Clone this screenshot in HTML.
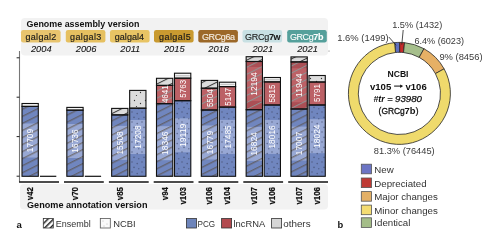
<!DOCTYPE html>
<html><head><meta charset="utf-8"><style>html,body{margin:0;padding:0;background:#fff;width:499px;height:251px;overflow:hidden}svg{display:block;will-change:transform;font-family:"Liberation Sans",sans-serif}</style></head>
<body><svg width="499" height="251" viewBox="0 0 499 251" font-family="Liberation Sans, sans-serif">
<defs>
<pattern id="hb" patternUnits="userSpaceOnUse" width="20" height="6.3" patternTransform="rotate(-26.6)"><line x1="0" y1="0.7" x2="20" y2="0.7" stroke="#54432c" stroke-width="1.2" stroke-opacity="0.6"/></pattern>
<pattern id="hr" patternUnits="userSpaceOnUse" width="20" height="6.3" patternTransform="rotate(-26.6)"><line x1="0" y1="0.5" x2="20" y2="0.5" stroke="#8c9898" stroke-width="1" stroke-opacity="0.9"/></pattern>
<pattern id="hg" patternUnits="userSpaceOnUse" width="20" height="6.3" patternTransform="rotate(-26.6)"><line x1="0" y1="0.5" x2="20" y2="0.5" stroke="#333" stroke-width="1"/></pattern>
<pattern id="dt" patternUnits="userSpaceOnUse" width="10" height="10"><g fill="#3a4262" fill-opacity="0.6"><circle cx="2" cy="2" r="0.8"/><circle cx="7.2" cy="3.6" r="0.8"/><circle cx="4" cy="7.4" r="0.8"/><circle cx="8.8" cy="8.8" r="0.7"/></g></pattern>
<pattern id="dg" patternUnits="userSpaceOnUse" width="11" height="11"><g fill="#333"><circle cx="2.5" cy="1.5" r="0.65"/><circle cx="8.5" cy="4.5" r="0.65"/><circle cx="4.5" cy="7.5" r="0.6"/></g></pattern>
<pattern id="lh" patternUnits="userSpaceOnUse" width="4" height="4" patternTransform="rotate(-45)"><rect x="0" y="0" width="4" height="1.5" fill="#222"/></pattern>
</defs>
<rect width="499" height="251" fill="#fff"/>
<rect x="21" y="18" width="307" height="37.5" rx="4" fill="#f2f2f2"/>
<text x="26.5" y="26.6" font-size="9.2" font-weight="bold" fill="#111" textLength="113" lengthAdjust="spacingAndGlyphs">Genome assembly version</text>
<rect x="21" y="30" width="39.6" height="12.4" rx="2.2" fill="#e8c46e"/>
<text x="25.5" y="39.7" font-size="9.0" fill="#1a1a1a" stroke="#1a1a1a" stroke-width="0.15" textLength="30.8" lengthAdjust="spacing">galgal2</text>
<text x="41.3" y="51.6" font-size="9.3" font-style="italic" fill="#111" stroke="#111" stroke-width="0.08" text-anchor="middle">2004</text>
<rect x="65.8" y="30" width="39.6" height="12.4" rx="2.2" fill="#e6c060"/>
<text x="70.0" y="39.7" font-size="9.0" fill="#1a1a1a" stroke="#1a1a1a" stroke-width="0.15" textLength="31.3" lengthAdjust="spacing">galgal3</text>
<text x="86.1" y="51.6" font-size="9.3" font-style="italic" fill="#111" stroke="#111" stroke-width="0.08" text-anchor="middle">2006</text>
<rect x="110" y="30" width="39.6" height="12.4" rx="2.2" fill="#e8c464"/>
<text x="114.7" y="39.7" font-size="9.0" fill="#1a1a1a" stroke="#1a1a1a" stroke-width="0.15" textLength="29.400000000000002" lengthAdjust="spacing">galgal4</text>
<text x="130.3" y="51.6" font-size="9.3" font-style="italic" fill="#111" stroke="#111" stroke-width="0.08" text-anchor="middle">2011</text>
<rect x="154" y="30" width="39.6" height="12.4" rx="2.2" fill="#c99a30"/>
<text x="159.0" y="39.7" font-size="9.0" fill="#1a1a1a" stroke="#1a1a1a" stroke-width="0.15" textLength="31.7" lengthAdjust="spacing">galgal5</text>
<text x="174.3" y="51.6" font-size="9.3" font-style="italic" fill="#111" stroke="#111" stroke-width="0.08" text-anchor="middle">2015</text>
<rect x="198.3" y="30" width="39.6" height="12.4" rx="2.2" fill="#9c6828"/>
<text x="201.9" y="39.7" font-size="9.0" fill="#f4ece0" stroke="#f4ece0" stroke-width="0.15" textLength="33.199999999999996" lengthAdjust="spacing">GRCg6a</text>
<text x="218.60000000000002" y="51.6" font-size="9.3" font-style="italic" fill="#111" stroke="#111" stroke-width="0.08" text-anchor="middle">2018</text>
<rect x="242.5" y="30" width="39.6" height="12.4" rx="2.2" fill="#c8e0e3"/>
<text x="245.1" y="39.7" font-size="9.0" fill="#1a1a1a" stroke="#1a1a1a" stroke-width="0.1" textLength="35.5" lengthAdjust="spacing">GRCg<tspan font-weight="bold">7w</tspan></text>
<text x="262.8" y="51.6" font-size="9.3" font-style="italic" fill="#111" stroke="#111" stroke-width="0.08" text-anchor="middle">2021</text>
<rect x="287.2" y="30" width="39.6" height="12.4" rx="2.2" fill="#55a09b"/>
<text x="289.9" y="39.7" font-size="9.0" fill="#ffffff" stroke="#ffffff" stroke-width="0.1" textLength="33.5" lengthAdjust="spacing">GRCg<tspan font-weight="bold">7b</tspan></text>
<text x="307.5" y="51.6" font-size="9.3" font-style="italic" fill="#111" stroke="#111" stroke-width="0.08" text-anchor="middle">2021</text>
<rect x="20" y="184" width="308" height="25.5" rx="4" fill="#f2f2f2"/>
<text x="27" y="207.6" font-size="9.2" font-weight="bold" fill="#111" textLength="120.5" lengthAdjust="spacingAndGlyphs">Genome annotation version</text>
<line x1="19.5" y1="51" x2="19.5" y2="182.5" stroke="#777" stroke-width="1.1"/>
<line x1="16.6" y1="57.8" x2="19.5" y2="57.8" stroke="#222" stroke-width="1"/>
<line x1="16.6" y1="97.2" x2="19.5" y2="97.2" stroke="#222" stroke-width="1"/>
<line x1="16.6" y1="136.6" x2="19.5" y2="136.6" stroke="#222" stroke-width="1"/>
<line x1="16.6" y1="176.2" x2="19.5" y2="176.2" stroke="#222" stroke-width="1"/>
<line x1="19.2" y1="182" x2="59.0" y2="182" stroke="#111" stroke-width="1.4"/>
<line x1="64.0" y1="182" x2="103.8" y2="182" stroke="#111" stroke-width="1.4"/>
<line x1="108.9" y1="182" x2="148.7" y2="182" stroke="#111" stroke-width="1.4"/>
<line x1="153.7" y1="182" x2="193.5" y2="182" stroke="#111" stroke-width="1.4"/>
<line x1="198.5" y1="182" x2="238.3" y2="182" stroke="#111" stroke-width="1.4"/>
<line x1="243.3" y1="182" x2="283.1" y2="182" stroke="#111" stroke-width="1.4"/>
<line x1="288.2" y1="182" x2="328.0" y2="182" stroke="#111" stroke-width="1.4"/>
<rect x="22.00" y="103.5" width="16.3" height="2.90" fill="#f6f6f6"/>
<rect x="22.00" y="106.4" width="16.3" height="69.90" fill="#7086bf"/>
<rect x="22.00" y="123.5" width="16.3" height="34.0" fill="#98a8d4"/>
<rect x="22.00" y="106.4" width="16.3" height="69.90" fill="url(#hb)"/>
<rect x="22.00" y="103.5" width="16.3" height="2.90" fill="none" stroke="#111" stroke-width="1.1"/>
<rect x="22.00" y="106.4" width="16.3" height="69.90" fill="none" stroke="#111" stroke-width="1.1"/>
<text transform="translate(33.25,152.20) rotate(-90)" font-size="8.2" fill="#fff" textLength="23.4" lengthAdjust="spacingAndGlyphs">17709</text>
<rect x="66.83" y="107.4" width="16.3" height="2.80" fill="#f6f6f6"/>
<rect x="66.83" y="110.1" width="16.3" height="66.20" fill="#7086bf"/>
<rect x="66.83" y="124.0" width="16.3" height="34.0" fill="#98a8d4"/>
<rect x="66.83" y="110.1" width="16.3" height="66.20" fill="url(#hb)"/>
<rect x="66.83" y="107.4" width="16.3" height="2.80" fill="none" stroke="#111" stroke-width="1.1"/>
<rect x="66.83" y="110.1" width="16.3" height="66.20" fill="none" stroke="#111" stroke-width="1.1"/>
<text transform="translate(78.08,152.70) rotate(-90)" font-size="8.2" fill="#fff" textLength="23.4" lengthAdjust="spacingAndGlyphs">16736</text>
<rect x="111.66" y="108.4" width="16.3" height="6.50" fill="#dcdcdc"/>
<rect x="111.66" y="114.9" width="16.3" height="61.40" fill="#7086bf"/>
<rect x="111.66" y="125.9" width="16.3" height="34.0" fill="#98a8d4"/>
<rect x="111.66" y="108.4" width="16.3" height="6.50" fill="url(#hg)"/>
<rect x="111.66" y="114.9" width="16.3" height="61.40" fill="url(#hb)"/>
<rect x="111.66" y="108.4" width="16.3" height="6.50" fill="none" stroke="#111" stroke-width="1.1"/>
<rect x="111.66" y="114.9" width="16.3" height="61.40" fill="none" stroke="#111" stroke-width="1.1"/>
<text transform="translate(122.91,154.60) rotate(-90)" font-size="8.2" fill="#fff" textLength="23.4" lengthAdjust="spacingAndGlyphs">15508</text>
<rect x="129.66" y="90.4" width="16.3" height="17.80" fill="#dcdcdc"/>
<rect x="129.66" y="108.2" width="16.3" height="68.10" fill="#7086bf"/>
<rect x="129.66" y="120.0" width="16.3" height="34.0" fill="#98a8d4"/>
<rect x="129.66" y="90.4" width="16.3" height="17.80" fill="url(#dg)"/>
<rect x="129.66" y="108.2" width="16.3" height="68.10" fill="url(#dt)"/>
<rect x="129.66" y="90.4" width="16.3" height="17.80" fill="none" stroke="#111" stroke-width="1.1"/>
<rect x="129.66" y="108.2" width="16.3" height="68.10" fill="none" stroke="#111" stroke-width="1.1"/>
<text transform="translate(140.91,148.70) rotate(-90)" font-size="8.2" fill="#fff" textLength="23.4" lengthAdjust="spacingAndGlyphs">17208</text>
<rect x="156.49" y="78.3" width="16.3" height="7.10" fill="#dcdcdc"/>
<rect x="156.49" y="85.4" width="16.3" height="18.30" fill="#ab4f55"/>
<rect x="156.49" y="103.7" width="16.3" height="72.60" fill="#7086bf"/>
<rect x="156.49" y="126.2" width="16.3" height="34.0" fill="#98a8d4"/>
<rect x="156.49" y="85.4" width="16.3" height="18.3" fill="#bc6166"/>
<rect x="156.49" y="78.3" width="16.3" height="7.10" fill="url(#hg)"/>
<rect x="156.49" y="85.4" width="16.3" height="18.30" fill="url(#hr)"/>
<rect x="156.49" y="103.7" width="16.3" height="72.60" fill="url(#hb)"/>
<rect x="156.49" y="78.3" width="16.3" height="7.10" fill="none" stroke="#111" stroke-width="1.1"/>
<rect x="156.49" y="85.4" width="16.3" height="18.30" fill="none" stroke="#111" stroke-width="1.1"/>
<rect x="156.49" y="103.7" width="16.3" height="72.60" fill="none" stroke="#111" stroke-width="1.1"/>
<text transform="translate(167.74,154.90) rotate(-90)" font-size="8.2" fill="#fff" textLength="23.4" lengthAdjust="spacingAndGlyphs">18346</text>
<text transform="translate(167.74,103.10) rotate(-90)" font-size="8.2" fill="#fff" textLength="17.8" lengthAdjust="spacingAndGlyphs">4641</text>
<rect x="174.49" y="73.2" width="16.3" height="5.00" fill="#f6f6f6"/>
<rect x="175.49" y="75.10" width="14.3" height="1.3" fill="#c4c4c4"/>
<rect x="174.49" y="78.2" width="16.3" height="22.50" fill="#ab4f55"/>
<rect x="174.49" y="100.7" width="16.3" height="75.60" fill="#7086bf"/>
<rect x="174.49" y="118.3" width="16.3" height="34.0" fill="#98a8d4"/>
<rect x="174.49" y="78.2" width="16.3" height="22.5" fill="#bc6166"/>
<rect x="174.49" y="100.7" width="16.3" height="75.60" fill="url(#dt)"/>
<rect x="174.49" y="73.2" width="16.3" height="5.00" fill="none" stroke="#111" stroke-width="1.1"/>
<rect x="174.49" y="78.2" width="16.3" height="22.50" fill="none" stroke="#111" stroke-width="1.1"/>
<rect x="174.49" y="100.7" width="16.3" height="75.60" fill="none" stroke="#111" stroke-width="1.1"/>
<text transform="translate(185.74,147.00) rotate(-90)" font-size="8.2" fill="#fff" textLength="23.4" lengthAdjust="spacingAndGlyphs">19119</text>
<text transform="translate(185.74,97.70) rotate(-90)" font-size="8.2" fill="#fff" textLength="17.8" lengthAdjust="spacingAndGlyphs">5763</text>
<rect x="201.32" y="80.4" width="16.3" height="7.80" fill="#dcdcdc"/>
<rect x="201.32" y="88.2" width="16.3" height="21.80" fill="#ab4f55"/>
<rect x="201.32" y="110.0" width="16.3" height="66.30" fill="#7086bf"/>
<rect x="201.32" y="125.5" width="16.3" height="34.0" fill="#98a8d4"/>
<rect x="201.32" y="88.2" width="16.3" height="21.8" fill="#bc6166"/>
<rect x="201.32" y="80.4" width="16.3" height="7.80" fill="url(#hg)"/>
<rect x="201.32" y="88.2" width="16.3" height="21.80" fill="url(#hr)"/>
<rect x="201.32" y="110.0" width="16.3" height="66.30" fill="url(#hb)"/>
<rect x="201.32" y="80.4" width="16.3" height="7.80" fill="none" stroke="#111" stroke-width="1.1"/>
<rect x="201.32" y="88.2" width="16.3" height="21.80" fill="none" stroke="#111" stroke-width="1.1"/>
<rect x="201.32" y="110.0" width="16.3" height="66.30" fill="none" stroke="#111" stroke-width="1.1"/>
<text transform="translate(212.57,154.20) rotate(-90)" font-size="8.2" fill="#fff" textLength="23.4" lengthAdjust="spacingAndGlyphs">16779</text>
<text transform="translate(212.57,107.10) rotate(-90)" font-size="8.2" fill="#fff" textLength="17.8" lengthAdjust="spacingAndGlyphs">5504</text>
<rect x="219.32" y="82.2" width="16.3" height="4.40" fill="#f6f6f6"/>
<rect x="220.32" y="83.80" width="14.3" height="1.3" fill="#c4c4c4"/>
<rect x="219.32" y="86.6" width="16.3" height="20.50" fill="#ab4f55"/>
<rect x="219.32" y="107.1" width="16.3" height="69.20" fill="#7086bf"/>
<rect x="219.32" y="119.9" width="16.3" height="34.0" fill="#98a8d4"/>
<rect x="219.32" y="86.6" width="16.3" height="20.5" fill="#bc6166"/>
<rect x="219.32" y="107.1" width="16.3" height="69.20" fill="url(#dt)"/>
<rect x="219.32" y="82.2" width="16.3" height="4.40" fill="none" stroke="#111" stroke-width="1.1"/>
<rect x="219.32" y="86.6" width="16.3" height="20.50" fill="none" stroke="#111" stroke-width="1.1"/>
<rect x="219.32" y="107.1" width="16.3" height="69.20" fill="none" stroke="#111" stroke-width="1.1"/>
<text transform="translate(230.57,148.60) rotate(-90)" font-size="8.2" fill="#fff" textLength="23.4" lengthAdjust="spacingAndGlyphs">17485</text>
<text transform="translate(230.57,105.70) rotate(-90)" font-size="8.2" fill="#fff" textLength="17.8" lengthAdjust="spacingAndGlyphs">5147</text>
<rect x="246.15" y="56.7" width="16.3" height="4.80" fill="#dcdcdc"/>
<rect x="246.15" y="61.5" width="16.3" height="48.20" fill="#ab4f55"/>
<rect x="246.15" y="109.7" width="16.3" height="66.60" fill="#7086bf"/>
<rect x="246.15" y="126.9" width="16.3" height="34.0" fill="#98a8d4"/>
<rect x="246.15" y="67.0" width="16.3" height="34.0" fill="#bc6166"/>
<rect x="246.15" y="56.7" width="16.3" height="4.80" fill="url(#hg)"/>
<rect x="246.15" y="61.5" width="16.3" height="48.20" fill="url(#hr)"/>
<rect x="246.15" y="109.7" width="16.3" height="66.60" fill="url(#hb)"/>
<rect x="246.15" y="56.7" width="16.3" height="4.80" fill="none" stroke="#111" stroke-width="1.1"/>
<rect x="246.15" y="61.5" width="16.3" height="48.20" fill="none" stroke="#111" stroke-width="1.1"/>
<rect x="246.15" y="109.7" width="16.3" height="66.60" fill="none" stroke="#111" stroke-width="1.1"/>
<text transform="translate(257.40,155.60) rotate(-90)" font-size="8.2" fill="#fff" textLength="23.4" lengthAdjust="spacingAndGlyphs">16824</text>
<text transform="translate(257.40,95.70) rotate(-90)" font-size="8.2" fill="#fff" textLength="23.4" lengthAdjust="spacingAndGlyphs">12194</text>
<rect x="264.15" y="77.5" width="16.3" height="4.40" fill="#f6f6f6"/>
<rect x="265.15" y="79.10" width="14.3" height="1.3" fill="#c4c4c4"/>
<rect x="264.15" y="81.9" width="16.3" height="23.10" fill="#ab4f55"/>
<rect x="264.15" y="105.0" width="16.3" height="71.30" fill="#7086bf"/>
<rect x="264.15" y="119.9" width="16.3" height="34.0" fill="#98a8d4"/>
<rect x="264.15" y="81.9" width="16.3" height="23.1" fill="#bc6166"/>
<rect x="264.15" y="105.0" width="16.3" height="71.30" fill="url(#dt)"/>
<rect x="264.15" y="77.5" width="16.3" height="4.40" fill="none" stroke="#111" stroke-width="1.1"/>
<rect x="264.15" y="81.9" width="16.3" height="23.10" fill="none" stroke="#111" stroke-width="1.1"/>
<rect x="264.15" y="105.0" width="16.3" height="71.30" fill="none" stroke="#111" stroke-width="1.1"/>
<text transform="translate(275.40,148.60) rotate(-90)" font-size="8.2" fill="#fff" textLength="23.4" lengthAdjust="spacingAndGlyphs">18016</text>
<text transform="translate(275.40,102.40) rotate(-90)" font-size="8.2" fill="#fff" textLength="17.8" lengthAdjust="spacingAndGlyphs">5815</text>
<rect x="290.98" y="56.9" width="16.3" height="5.00" fill="#dcdcdc"/>
<rect x="290.98" y="61.9" width="16.3" height="47.10" fill="#ab4f55"/>
<rect x="290.98" y="109.0" width="16.3" height="67.30" fill="#7086bf"/>
<rect x="290.98" y="126.6" width="16.3" height="34.0" fill="#98a8d4"/>
<rect x="290.98" y="68.2" width="16.3" height="34.0" fill="#bc6166"/>
<rect x="290.98" y="56.9" width="16.3" height="5.00" fill="url(#hg)"/>
<rect x="290.98" y="61.9" width="16.3" height="47.10" fill="url(#hr)"/>
<rect x="290.98" y="109.0" width="16.3" height="67.30" fill="url(#hb)"/>
<rect x="290.98" y="56.9" width="16.3" height="5.00" fill="none" stroke="#111" stroke-width="1.1"/>
<rect x="290.98" y="61.9" width="16.3" height="47.10" fill="none" stroke="#111" stroke-width="1.1"/>
<rect x="290.98" y="109.0" width="16.3" height="67.30" fill="none" stroke="#111" stroke-width="1.1"/>
<text transform="translate(302.23,155.30) rotate(-90)" font-size="8.2" fill="#fff" textLength="23.4" lengthAdjust="spacingAndGlyphs">17007</text>
<text transform="translate(302.23,96.90) rotate(-90)" font-size="8.2" fill="#fff" textLength="23.4" lengthAdjust="spacingAndGlyphs">11944</text>
<rect x="308.98" y="75.5" width="16.3" height="6.50" fill="#dcdcdc"/>
<rect x="308.98" y="82.0" width="16.3" height="23.00" fill="#ab4f55"/>
<rect x="308.98" y="105.0" width="16.3" height="71.30" fill="#7086bf"/>
<rect x="308.98" y="119.2" width="16.3" height="34.0" fill="#98a8d4"/>
<rect x="308.98" y="82.0" width="16.3" height="23.0" fill="#bc6166"/>
<rect x="308.98" y="75.5" width="16.3" height="6.50" fill="url(#dg)"/>
<rect x="308.98" y="105.0" width="16.3" height="71.30" fill="url(#dt)"/>
<rect x="308.98" y="75.5" width="16.3" height="6.50" fill="none" stroke="#111" stroke-width="1.1"/>
<rect x="308.98" y="82.0" width="16.3" height="23.00" fill="none" stroke="#111" stroke-width="1.1"/>
<rect x="308.98" y="105.0" width="16.3" height="71.30" fill="none" stroke="#111" stroke-width="1.1"/>
<text transform="translate(320.23,147.90) rotate(-90)" font-size="8.2" fill="#fff" textLength="23.4" lengthAdjust="spacingAndGlyphs">18024</text>
<text transform="translate(320.23,101.90) rotate(-90)" font-size="8.2" fill="#fff" textLength="17.8" lengthAdjust="spacingAndGlyphs">5791</text>
<line x1="40.0" y1="176.3" x2="56.3" y2="176.3" stroke="#111" stroke-width="1.2"/>
<line x1="84.8" y1="176.3" x2="101.1" y2="176.3" stroke="#111" stroke-width="1.2"/>
<text transform="translate(33.05,200.2) rotate(-90)" font-size="8.8" font-weight="bold" fill="#111" stroke="#111" stroke-width="0.2" textLength="13.2" lengthAdjust="spacingAndGlyphs">v42</text>
<text transform="translate(77.88,200.2) rotate(-90)" font-size="8.8" font-weight="bold" fill="#111" stroke="#111" stroke-width="0.2" textLength="13.2" lengthAdjust="spacingAndGlyphs">v70</text>
<text transform="translate(122.71,200.2) rotate(-90)" font-size="8.8" font-weight="bold" fill="#111" stroke="#111" stroke-width="0.2" textLength="13.2" lengthAdjust="spacingAndGlyphs">v85</text>
<text transform="translate(167.54,200.2) rotate(-90)" font-size="8.8" font-weight="bold" fill="#111" stroke="#111" stroke-width="0.2" textLength="13.2" lengthAdjust="spacingAndGlyphs">v94</text>
<text transform="translate(185.54,204.6) rotate(-90)" font-size="8.8" font-weight="bold" fill="#111" stroke="#111" stroke-width="0.2" textLength="17.6" lengthAdjust="spacingAndGlyphs">v103</text>
<text transform="translate(212.37,204.6) rotate(-90)" font-size="8.8" font-weight="bold" fill="#111" stroke="#111" stroke-width="0.2" textLength="17.6" lengthAdjust="spacingAndGlyphs">v106</text>
<text transform="translate(230.37,204.6) rotate(-90)" font-size="8.8" font-weight="bold" fill="#111" stroke="#111" stroke-width="0.2" textLength="17.6" lengthAdjust="spacingAndGlyphs">v104</text>
<text transform="translate(257.20,204.6) rotate(-90)" font-size="8.8" font-weight="bold" fill="#111" stroke="#111" stroke-width="0.2" textLength="17.6" lengthAdjust="spacingAndGlyphs">v107</text>
<text transform="translate(275.20,204.6) rotate(-90)" font-size="8.8" font-weight="bold" fill="#111" stroke="#111" stroke-width="0.2" textLength="17.6" lengthAdjust="spacingAndGlyphs">v106</text>
<text transform="translate(302.03,204.6) rotate(-90)" font-size="8.8" font-weight="bold" fill="#111" stroke="#111" stroke-width="0.2" textLength="17.6" lengthAdjust="spacingAndGlyphs">v107</text>
<text transform="translate(320.03,204.6) rotate(-90)" font-size="8.8" font-weight="bold" fill="#111" stroke="#111" stroke-width="0.2" textLength="17.6" lengthAdjust="spacingAndGlyphs">v106</text>
<circle cx="329" cy="51" r="0.5" fill="#555"/>
<text x="16.6" y="227.8" font-size="9.6" font-weight="bold" fill="#111">a</text>
<rect x="43.3" y="218.5" width="10" height="9.5" fill="#fff"/>
<rect x="43.3" y="218.5" width="10" height="9.5" fill="url(#lh)"/>
<rect x="43.3" y="218.5" width="10" height="9.5" fill="none" stroke="#333" stroke-width="0.8"/>
<text x="55.8" y="227.2" font-size="9.4" fill="#333" textLength="35" lengthAdjust="spacingAndGlyphs">Ensembl</text>
<rect x="100.3" y="218.5" width="10" height="9.5" fill="#fafafa" stroke="#555" stroke-width="0.8"/>
<circle cx="103" cy="221" r="0.4" fill="#777"/><circle cx="107" cy="224" r="0.4" fill="#777"/><circle cx="104" cy="226" r="0.4" fill="#777"/>
<text x="113.2" y="227.2" font-size="9.4" fill="#333">NCBI</text>
<rect x="186.4" y="218.5" width="10" height="9.5" fill="#6e85bb" stroke="#333" stroke-width="0.8"/>
<text x="197.6" y="227.2" font-size="9.4" fill="#333" textLength="17.6" lengthAdjust="spacingAndGlyphs">PCG</text>
<rect x="221.6" y="218.5" width="10" height="9.5" fill="#b24a4f" stroke="#333" stroke-width="0.8"/>
<text x="233.5" y="227.2" font-size="9.4" fill="#333">lncRNA</text>
<rect x="271.6" y="218.5" width="10" height="9.5" fill="#d6d6d6" stroke="#333" stroke-width="0.8"/>
<text x="283.2" y="227.2" font-size="9.4" fill="#333" textLength="27.4" lengthAdjust="spacingAndGlyphs">others</text>
<path d="M394.60,42.63 A51.0,51.0 0 0 1 399.72,42.40 L399.66,52.30 A41.1,41.1 0 0 0 395.53,52.48 Z" fill="#5f70bf" stroke="#262626" stroke-width="0.8"/>
<path d="M399.72,42.40 A51.0,51.0 0 0 1 404.52,42.66 L403.52,52.51 A41.1,41.1 0 0 0 399.66,52.30 Z" fill="#c62a2a" stroke="#262626" stroke-width="0.8"/>
<path d="M404.52,42.66 A51.0,51.0 0 0 1 423.97,48.71 L419.20,57.38 A41.1,41.1 0 0 0 403.52,52.51 Z" fill="#a6bf8c" stroke="#262626" stroke-width="0.8"/>
<path d="M423.97,48.71 A51.0,51.0 0 0 1 444.09,68.83 L435.42,73.60 A41.1,41.1 0 0 0 419.20,57.38 Z" fill="#e6b065" stroke="#262626" stroke-width="0.8"/>
<path d="M444.09,68.83 A51.0,51.0 0 1 1 394.60,42.63 L395.53,52.48 A41.1,41.1 0 1 0 435.42,73.60 Z" fill="#efda6c" stroke="#262626" stroke-width="0.8"/>
<line x1="388.8" y1="37" x2="396.2" y2="45.3" stroke="#222" stroke-width="0.8"/>
<line x1="403.2" y1="30.0" x2="401.8" y2="44.6" stroke="#222" stroke-width="0.8"/>
<text x="337.2" y="41.2" font-size="9.2" fill="#3a3a3a" textLength="51.4" lengthAdjust="spacingAndGlyphs">1.6% (1499)</text>
<text x="392.2" y="27.6" font-size="9.2" fill="#3a3a3a" textLength="50.1" lengthAdjust="spacingAndGlyphs">1.5% (1432)</text>
<text x="414.4" y="44.2" font-size="9.2" fill="#3a3a3a" textLength="49.6" lengthAdjust="spacingAndGlyphs">6.4% (6023)</text>
<text x="439.4" y="59.9" font-size="9.2" fill="#3a3a3a" textLength="43.2" lengthAdjust="spacingAndGlyphs">9% (8456)</text>
<text x="373.8" y="153.6" font-size="9.2" fill="#3a3a3a" textLength="60.9" lengthAdjust="spacingAndGlyphs">81.3% (76445)</text>
<text x="398" y="76.6" font-size="8.6" font-weight="bold" fill="#111" text-anchor="middle">NCBI</text>
<text x="369.9" y="89.6" font-size="8.8" font-weight="bold" fill="#111" textLength="21.4" lengthAdjust="spacingAndGlyphs">v105</text>
<text x="405.5" y="89.6" font-size="8.8" font-weight="bold" fill="#111" textLength="21.2" lengthAdjust="spacingAndGlyphs">v106</text>
<path d="M394.1,86.1 H401" stroke="#333" stroke-width="1.2"/><path d="M400.2,84.4 L403.1,86.1 L400.2,87.9 Z" fill="#111"/>
<text x="373.4" y="101.9" font-size="9.2" font-style="italic" font-weight="bold" fill="#111" textLength="11.2" lengthAdjust="spacingAndGlyphs">#tr</text>
<text x="387.2" y="101.9" font-size="9.2" font-style="italic" fill="#111" stroke="#111" stroke-width="0.2">=</text>
<text x="395.0" y="101.9" font-size="9.2" font-style="italic" fill="#111" stroke="#111" stroke-width="0.25" textLength="27" lengthAdjust="spacingAndGlyphs">93980</text>
<text x="378.6" y="113.9" font-size="9.4" fill="#111" stroke="#111" stroke-width="0.3" textLength="26.2" lengthAdjust="spacingAndGlyphs">(GRCg</text>
<text x="404.6" y="113.9" font-size="9.4" font-weight="bold" fill="#111" textLength="11" lengthAdjust="spacingAndGlyphs">7b</text>
<text x="415.5" y="113.9" font-size="9.4" fill="#111" stroke="#111" stroke-width="0.2">)</text>
<rect x="361.3" y="164.2" width="10.2" height="9.6" fill="#6b74c4" stroke="#555" stroke-width="0.8"/>
<text x="374.3" y="172.8" font-size="9.7" fill="#333">New</text>
<rect x="361.3" y="178.0" width="10.2" height="9.6" fill="#be3a34" stroke="#555" stroke-width="0.8"/>
<text x="374.3" y="186.6" font-size="9.7" fill="#333">Depreciated</text>
<rect x="361.3" y="191.6" width="10.2" height="9.6" fill="#e3b066" stroke="#555" stroke-width="0.8"/>
<text x="374.3" y="200.2" font-size="9.7" fill="#333">Major changes</text>
<rect x="361.3" y="205.1" width="10.2" height="9.6" fill="#f4dc72" stroke="#555" stroke-width="0.8"/>
<text x="374.3" y="213.7" font-size="9.7" fill="#333">Minor changes</text>
<rect x="361.3" y="217.8" width="10.2" height="9.6" fill="#a4bd88" stroke="#555" stroke-width="0.8"/>
<text x="374.3" y="226.4" font-size="9.7" fill="#333">Identical</text>
<text x="337.6" y="227.7" font-size="9.4" font-weight="bold" fill="#111">b</text>
</svg></body></html>
